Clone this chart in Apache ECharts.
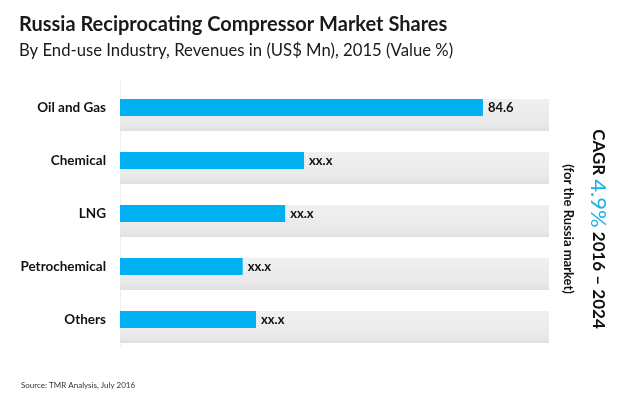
<!DOCTYPE html>
<html><head><meta charset="utf-8">
<script src="https://cdn.jsdelivr.net/npm/echarts@6/dist/echarts.min.js"></script>
<style>html,body{margin:0;padding:0;background:#fff}#c{width:620px;height:400px}</style>
</head><body><div id="c"></div>
<script>
const categories = ['Oil and Gas', 'Chemical', 'LNG', 'Petrochemical', 'Others'];
const values = [84.6, 42.9, 38.5, 28.6, 31.7];
const valueLabels = ['84.6', 'xx.x', 'xx.x', 'xx.x', 'xx.x'];
const axisMax = 100;
const backgroundValues = categories.map(() => axisMax);

const FONT = 'Lato';
const chart = echarts.init(document.getElementById('c'), null, {renderer: 'canvas'});
chart.setOption({
  animation: false,
  backgroundColor: '#fff',
  title: [
    {text: 'Russia Reciprocating Compressor Market Shares', left: 14, top: 10,
     textStyle: {fontFamily: FONT, fontSize: 20, fontWeight: 'bold', color: '#1a1a1a'}},
    {text: 'By End-use Industry, Revenues in (US$ Mn), 2015 (Value %)', left: 14, top: 37,
     textStyle: {fontFamily: FONT, fontSize: 16.7, fontWeight: 'normal', color: '#1a1a1a'}},
    {text: 'Source: TMR Analysis, July 2016', left: 16, top: 376,
     textStyle: {fontFamily: FONT, fontSize: 8, fontWeight: 'normal', color: '#333'}}
  ],
  grid: {left: 120, right: 71, top: 81, height: 265, containLabel: false},
  xAxis: {type: 'value', min: 0, max: axisMax, show: false},
  yAxis: {
    type: 'category', data: categories, inverse: true,
    axisLine: {show: true, lineStyle: {color: '#eeeeee', width: 1}},
    axisTick: {show: false},
    axisLabel: {fontFamily: FONT, fontSize: 13.5, fontWeight: 'bold', color: '#111', margin: 14}
  },
  series: [
    {type: 'bar', data: backgroundValues, barWidth: 32, silent: true,
     itemStyle: {color: new echarts.graphic.LinearGradient(0, 0, 0, 1, [
       {offset: 0, color: '#f0f0f0'}, {offset: 0.8, color: '#e9e9e9'}, {offset: 1, color: '#e0e0e0'}])},
     z: 1},
    {type: 'bar', data: values, barWidth: 17, barGap: '-100%', z: 2,
     itemStyle: {color: '#00b0f0'},
     label: {show: true, position: 'right', distance: 5,
       formatter: p => valueLabels[p.dataIndex],
       fontFamily: FONT, fontSize: 13, fontWeight: 'bold', color: '#111'}}
  ],
  graphic: [
    {type: 'text', x: 598, y: 229, rotation: -Math.PI / 2,
     style: {text: '{a|CAGR }{b|4.9%}{a| 2016 – 2024}', align: 'center', verticalAlign: 'middle',
       rich: {a: {fontFamily: FONT, fontSize: 17, fontWeight: 'bold', fill: '#111', color: '#111'},
              b: {fontFamily: FONT, fontSize: 22, fontWeight: 'normal', fill: '#1fb0ea', color: '#1fb0ea'}}}},
    {type: 'text', x: 568, y: 229, rotation: -Math.PI / 2,
     style: {text: '(for the Russia market)', align: 'center', verticalAlign: 'middle',
       font: 'bold 13px ' + FONT, fill: '#111'}}
  ]
});
</script></body></html>
